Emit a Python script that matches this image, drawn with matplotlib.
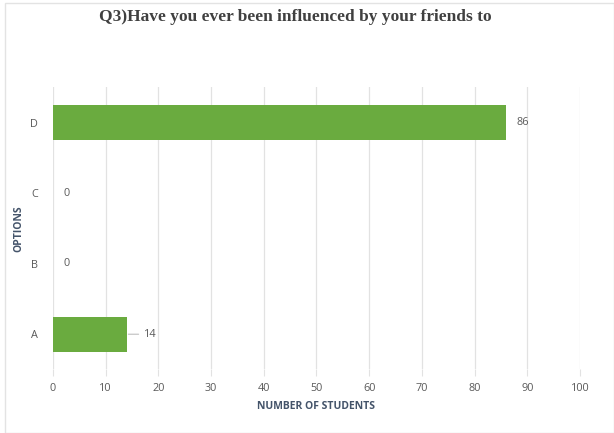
import matplotlib.pyplot as plt
from matplotlib.patches import Rectangle

# survey answers, bottom to top
options = ['A', 'B', 'C', 'D']
students = [14, 0, 0, 86]
x_ticks = list(range(0, 101, 10))

text_grey = '#595959'
label_blue = '#44546a'

fig = plt.figure(figsize=(6.14, 4.33), dpi=100)
fig.patches.append(Rectangle((0.008, 0.0), 0.992, 0.993, transform=fig.transFigure,
                             fill=False, edgecolor='#e3e3e3', linewidth=1))

ax = fig.add_axes([0.0863, 0.1467, 0.8583, 0.6513])
ax.barh(options, students, height=0.5, color='#6aab3f', linewidth=0, zorder=3)

ax.set_xlim(0, 100)
ax.set_ylim(-0.5, 3.5)
ax.set_xticks(x_ticks)
ax.grid(axis='x', color='#e2e2e2', linewidth=0.9, zorder=0)
for s in ax.spines.values():
    s.set_visible(False)
ax.tick_params(axis='x', length=5, color='#e2e2e2', pad=5, labelsize=7.8, labelcolor=text_grey)
ax.tick_params(axis='y', length=0, pad=11, labelsize=7.8, labelcolor=text_grey)
for lbl in ax.get_xticklabels() + ax.get_yticklabels():
    lbl.set_family('Open Sans')

# value labels next to the bars
for i, v in enumerate(students):
    if v == 14:
        ax.annotate(str(v), xy=(v + 0.3, i), xytext=(v + 3.3, i), va='center', ha='left',
                    fontsize=7.8, color=text_grey, family='Open Sans',
                    arrowprops=dict(arrowstyle='-', color='#bfbfbf', lw=0.8, shrinkA=2, shrinkB=0))
    else:
        ax.text(v + 1.9, i, str(v), va='center', ha='left', fontsize=7.8,
                color=text_grey, family='Open Sans')

ax.set_xlabel('NUMBER OF STUDENTS', fontsize=7.5, fontweight='bold', color=label_blue,
              family='Open Sans', labelpad=5)
ax.set_ylabel('OPTIONS', fontsize=7.5, fontweight='bold', color=label_blue,
              family='Open Sans', labelpad=4)

fig.text(0.481, 0.961, 'Q3)Have you ever been influenced by your friends to', ha='center', va='center',
         fontsize=12.5, fontweight='bold', color='#404040', family='Liberation Serif')

fig.savefig('out.png', dpi=100)
